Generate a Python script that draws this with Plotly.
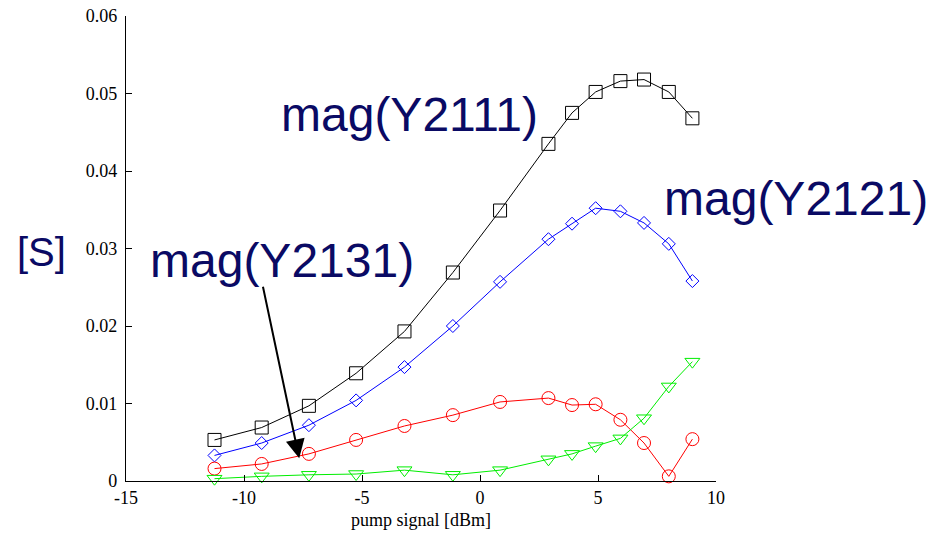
import plotly.graph_objects as go

# Pump power sweep [dBm]
pump_dbm = [-11.25, -9.25, -7.25, -5.25, -3.2, -1.15, 0.85, 2.9, 3.9, 4.9, 5.95, 6.95, 8.0, 9.0]

# Magnitudes of the admittance parameters
mag_y2111 = [0.0053, 0.0069, 0.0097, 0.0139, 0.0193, 0.0269, 0.0349, 0.0435, 0.0475,
             0.0502, 0.0516, 0.0518, 0.0502, 0.0468]
mag_y2121 = [0.0033, 0.0049, 0.0072, 0.0104, 0.0147, 0.0200, 0.0257, 0.0312, 0.0332,
             0.0352, 0.0348, 0.0333, 0.0306, 0.0258]
mag_y2131 = [0.0016, 0.0022, 0.0035, 0.0053, 0.0071, 0.0085, 0.0102, 0.0107, 0.0098,
             0.0099, 0.0079, 0.0049, 0.0006, 0.0054]
mag_y2141 = [0.0003, 0.0006, 0.0008, 0.0009, 0.0014, 0.0008, 0.0014, 0.0028, 0.0035,
             0.0045, 0.0055, 0.0081, 0.0122, 0.0154]

x_ticks = [-15, -10, -5, 0, 5, 10]
x_tick_text = ["-15", "-10", "-5", "0", "5", "10"]
y_ticks = [0, 0.01, 0.02, 0.03, 0.04, 0.05, 0.06]
y_tick_text = ["0", "0.01", "0.02", "0.03", "0.04", "0.05", "0.06"]

series = [
    ("mag(Y2111)", mag_y2111, "#000000", "square-open", 13),
    ("mag(Y2121)", mag_y2121, "#0000ff", "diamond-open", 10),
    ("mag(Y2131)", mag_y2131, "#ff0000", "circle-open", 13),
    ("mag(Y2141)", mag_y2141, "#00ee00", "triangle-down-open", 13),
]

fig = go.Figure()
for name, vals, color, symbol, size in series:
    fig.add_trace(go.Scatter(
        x=pump_dbm, y=vals, name=name, mode="lines+markers",
        line=dict(color=color, width=1),
        marker=dict(symbol=symbol, size=size, color=color, line=dict(color=color, width=1)),
        cliponaxis=False,
    ))

label_color = "#0a0a64"
label_font = dict(family="Liberation Sans, Arial", size=48, color=label_color)

annotations = [
    dict(x=-2.97, y=0.0473, text="mag(Y2111)", font=label_font),
    dict(x=1.1356, y=0.607, xref="paper", yref="paper", text="mag(Y2121)", font=label_font),
    dict(x=-8.39, y=0.0284, text="mag(Y2131)", font=label_font),
    dict(x=-0.1424, y=0.493, xref="paper", yref="paper", text="[S]",
         font=dict(family="Liberation Sans, Arial", size=40, color=label_color)),
    # arrow pointing at the Y2131 curve
    dict(x=-7.66, y=0.00293, ax=-9.21, ay=0.02526, axref="x", ayref="y",
         text="", showarrow=True, arrowhead=2, arrowsize=1.9, arrowwidth=2,
         arrowcolor="#000000"),
]
for a in annotations:
    a.setdefault("xref", "x")
    a.setdefault("yref", "y")
    a.setdefault("showarrow", False)
    a.setdefault("xanchor", "center")
    a.setdefault("yanchor", "middle")
    fig.add_annotation(**a)

tick_font = dict(family="Liberation Serif, serif", size=18, color="#000000")

fig.update_layout(
    width=942, height=533,
    margin=dict(l=126, r=226, t=16, b=52),
    paper_bgcolor="white", plot_bgcolor="white",
    showlegend=False,
    xaxis=dict(
        range=[-15, 10], tickvals=x_ticks, ticktext=x_tick_text,
        ticks="inside", ticklen=6, tickwidth=1, tickcolor="black",
        showline=True, linecolor="black", linewidth=1.3,
        showgrid=False, zeroline=False, tickfont=tick_font, automargin=False,
        title=dict(text="pump signal [dBm]", font=tick_font, standoff=6),
    ),
    yaxis=dict(
        range=[0, 0.06], tickvals=y_ticks, ticktext=y_tick_text,
        ticks="inside", ticklen=6, tickwidth=1, tickcolor="black",
        showline=True, linecolor="black", linewidth=1.3,
        showgrid=False, zeroline=False, tickfont=tick_font, automargin=False,
        ticklabelstandoff=4,
    ),
)

fig.write_html("out.html")
